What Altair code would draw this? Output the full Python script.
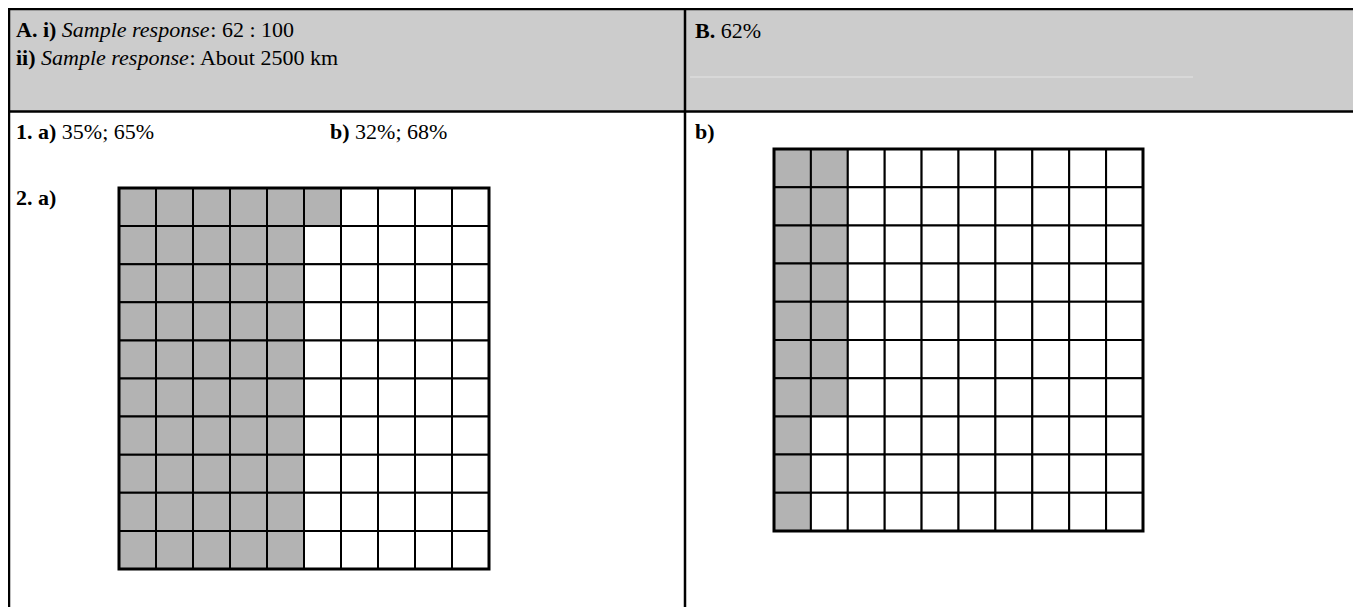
import altair as alt
import pandas as pd

# ---- data ----
# shaded cells per column (counted from the top row) for the two 10x10 grids
grid_a_shaded = [10, 10, 10, 10, 10, 1, 0, 0, 0, 0]
grid_b_shaded = [10, 7, 0, 0, 0, 0, 0, 0, 0, 0]

# text runs: (line id, style, text)
runs = [
    ("A", "bold", "A. i)"), ("A", "italic", "Sample response"), ("A", "normal", ": 62 : 100"),
    ("Aii", "bold", "ii)"), ("Aii", "italic", "Sample response"), ("Aii", "normal", ": About 2500 km"),
    ("1a", "bold", "1. a)"), ("1a", "normal", "35%; 65%"),
    ("1b", "bold", "b)"), ("1b", "normal", "32%; 68%"),
    ("2a", "bold", "2. a)"),
    ("B", "bold", "B."), ("B", "normal", "62%"),
    ("2b", "bold", "b)"),
]

# ---- layout (chart pixels; page = chart + 8) ----
W, H = 1345, 599
FONT = "Liberation Serif"
FS = 22
line_start = {"A": (8, 29), "Aii": (8, 57), "1a": (8, 131), "1b": (322, 131),
              "2a": (8, 197), "B": (687, 30), "2b": (687, 131)}

# Times New Roman advance widths (per 1000 em) used to flow the runs of a line
WID = {
    "normal": {" ": 250, ":": 278, ";": 278, "%": 833, "A": 722, "b": 500, "o": 500,
               "u": 500, "t": 278, "k": 500, "m": 778},
    "bold": {" ": 250, ".": 250, "A": 722, "i": 278, ")": 333, "a": 500, "b": 556, "B": 667},
    "italic": {" ": 250, "S": 500, "a": 500, "m": 722, "p": 500, "l": 278, "e": 444,
               "r": 389, "s": 389, "o": 500, "n": 500},
}

def run_width(style, text):
    return sum(WID[style].get(ch, 500) for ch in text) / 1000 * FS

rows = []
cursor = {}
for line, style, text in runs:
    x, y = cursor.get(line, line_start[line])
    rows.append({"x": x, "y": y, "text": text, "style": style})
    w = run_width(style, text)
    # a space follows a run unless the next run starts with punctuation
    cursor[line] = (x + w + 0.25 * FS, y)
texts = pd.DataFrame(rows)
# the normal run directly after an italic run starts with ':' (no space)
for i in range(1, len(texts)):
    if texts.loc[i, "text"].startswith(":") and texts.loc[i - 1, "style"] == "italic":
        texts.loc[i, "x"] -= 0.25 * FS

grids = [
    (grid_a_shaded, 111, 180, 37.0, 38.1),
    (grid_b_shaded, 766, 141, 36.9, 38.2),
]
cells = []
borders = []
for shaded, gx, gy, cw, ch in grids:
    for c in range(10):
        for r in range(10):
            cells.append({
                "x": gx + c * cw, "x2": gx + (c + 1) * cw,
                "y": gy + r * ch, "y2": gy + (r + 1) * ch,
                "fill": "#b3b3b3" if r < shaded[c] else "#ffffff",
            })
    borders.append({"x": gx, "x2": gx + 10 * cw, "y": gy, "y2": gy + 10 * ch})
cells = pd.DataFrame(cells)
borders = pd.DataFrame(borders)

header = pd.DataFrame([{"x": 0, "x2": W, "y": 0, "y2": 103}])
lines = pd.DataFrame([
    {"x": 0, "x2": W, "y": 1, "y2": 1},
    {"x": 1, "x2": 1, "y": 0, "y2": H},
    {"x": 0, "x2": W, "y": 103.5, "y2": 103.5},
    {"x": 677, "x2": 677, "y": 0, "y2": H},
])
faint = pd.DataFrame([{"x": 682, "x2": 1185, "y": 69, "y2": 69}])

xs = alt.Scale(domain=[0, W], range=[0, W], nice=False, zero=False)
ys = alt.Scale(domain=[0, H], range=[0, H], nice=False, zero=False)

def enc_rect():
    return dict(
        x=alt.X("x:Q", scale=xs, axis=None),
        x2="x2:Q",
        y=alt.Y("y:Q", scale=ys, axis=None),
        y2="y2:Q",
    )

header_layer = alt.Chart(header).mark_rect(color="#cccccc").encode(**enc_rect())
faint_layer = alt.Chart(faint).mark_rule(color="#e4e4e4", strokeWidth=1).encode(**enc_rect())
line_layer = alt.Chart(lines).mark_rule(color="black", strokeWidth=2.5).encode(**enc_rect())
cell_layer = alt.Chart(cells).mark_rect(stroke="black", strokeWidth=2).encode(
    **enc_rect(), fill=alt.Fill("fill:N", scale=None)
)
border_layer = alt.Chart(borders).mark_rect(fill=None, stroke="black", strokeWidth=3).encode(**enc_rect())

def text_layer(style):
    return alt.Chart(texts).transform_filter(
        alt.datum.style == style
    ).mark_text(
        font=FONT, fontSize=FS,
        fontWeight="bold" if style == "bold" else "normal",
        fontStyle="italic" if style == "italic" else "normal",
        align="left", baseline="alphabetic", color="black"
    ).encode(
        x=alt.X("x:Q", scale=xs, axis=None),
        y=alt.Y("y:Q", scale=ys, axis=None),
        text="text:N",
    )

chart = alt.layer(
    header_layer, faint_layer, line_layer, cell_layer, border_layer,
    text_layer("bold"), text_layer("italic"), text_layer("normal"),
).properties(
    width=W, height=H, padding=0, autosize="none", background="white"
).configure_view(stroke=None)

chart.save("out.html", embed_options={"renderer": "svg", "actions": False})
